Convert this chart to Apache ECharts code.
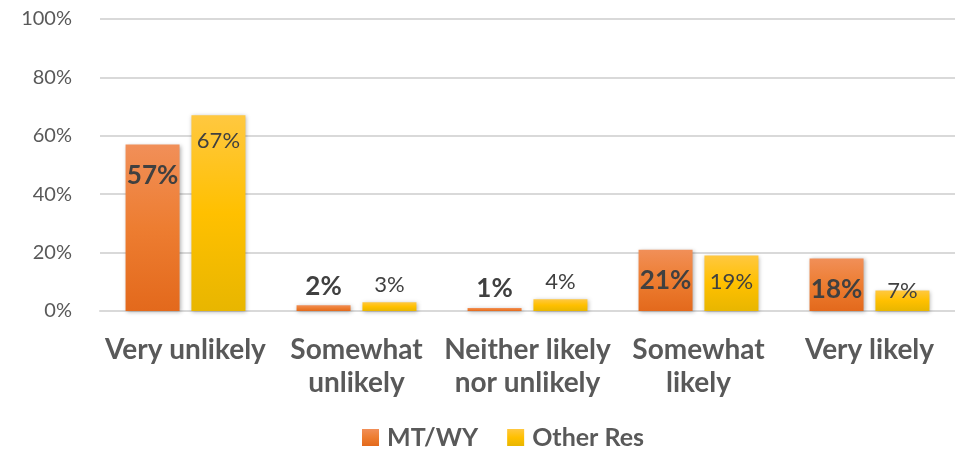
<!DOCTYPE html>
<html>
<head>
<meta charset="utf-8">
<script src="https://cdn.jsdelivr.net/npm/echarts@6/dist/echarts.min.js"></script>
<style>
  html, body { margin: 0; padding: 0; background: #fff; }
  #chart { width: 955px; height: 458px; }
</style>
</head>
<body>
<div id="chart"></div>
<script>
// data
const categories = ['Very unlikely', 'Somewhat\nunlikely', 'Neither likely\nnor unlikely', 'Somewhat\nlikely', 'Very likely']
const mtwy = [57, 2, 1, 21, 18]
const otherRes = [67, 3, 4, 19, 7]
const yTicks = [0, 20, 40, 60, 80, 100]

const font = 'Lato, "Open Sans", sans-serif'
const textColor = '#595959'

// small bars get label above, big ones inside the top
function labelled (values, insideDist) {
  return values.map(v => {
    let label
    if (v < 5) {
      label = { position: 'top', distance: 6 }
    } else if (v < 10) {
      label = { position: 'top', distance: -11 }
    } else {
      label = { position: 'insideTop', distance: insideDist }
    }
    return { value: v, label: label }
  })
}

const orange = new echarts.graphic.LinearGradient(0, 0, 0, 1, [
  { offset: 0, color: '#F18F58' },
  { offset: 0.5, color: '#ED7D31' },
  { offset: 1, color: '#E3691C' }
])
const yellow = new echarts.graphic.LinearGradient(0, 0, 0, 1, [
  { offset: 0, color: '#FFC840' },
  { offset: 0.5, color: '#FFC000' },
  { offset: 1, color: '#E8B600' }
])

let myChart = echarts.init(document.getElementById('chart'))
myChart.setOption({
  animation: false,
  grid: {
    left: 100,
    right: -2,
    top: 19,
    bottom: 147
  },
  legend: {
    bottom: 3,
    left: 357,
    itemWidth: 17,
    itemHeight: 17,
    itemGap: 29,
    icon: 'rect',
    textStyle: {
      fontFamily: font,
      fontSize: 25,
      fontWeight: 'bold',
      color: textColor,
      padding: [0, 0, 0, 3]
    },
    data: ['MT/WY', 'Other Res']
  },
  xAxis: {
    type: 'category',
    data: categories,
    axisLine: { show: true, lineStyle: { color: '#d9d9d9', width: 2 } },
    axisTick: { show: false },
    axisLabel: {
      interval: 0,
      margin: 22,
      fontFamily: font,
      fontSize: 28,
      fontWeight: 'bold',
      color: textColor,
      lineHeight: 33
    }
  },
  yAxis: {
    type: 'value',
    min: 0,
    max: 100,
    interval: 20,
    axisLine: { show: false },
    axisTick: { show: false },
    splitLine: { lineStyle: { color: '#d9d9d9', width: 2 } },
    axisLabel: {
      margin: 28,
      fontFamily: font,
      fontSize: 20,
      color: textColor,
      formatter: function (value) {
        return yTicks.indexOf(value) >= 0 ? value + '%' : ''
      }
    }
  },
  series: [
    {
      name: 'MT/WY',
      type: 'bar',
      barWidth: 54,
      barGap: '22%',
      data: labelled(mtwy, 18),
      itemStyle: {
        color: orange,
        shadowBlur: 4,
        shadowColor: 'rgba(0,0,0,0.3)',
        shadowOffsetX: 1,
        shadowOffsetY: 1
      },
      label: {
        show: true,
        formatter: '{c}%',
        fontFamily: font,
        fontSize: 26,
        fontWeight: 'bold',
        color: '#404040'
      }
    },
    {
      name: 'Other Res',
      type: 'bar',
      barWidth: 54,
      data: labelled(otherRes, 15),
      itemStyle: {
        color: yellow,
        shadowBlur: 4,
        shadowColor: 'rgba(0,0,0,0.3)',
        shadowOffsetX: 1,
        shadowOffsetY: 1
      },
      label: {
        show: true,
        formatter: '{c}%',
        fontFamily: font,
        fontSize: 22,
        color: '#404040'
      }
    }
  ]
})
</script>
</body>
</html>
